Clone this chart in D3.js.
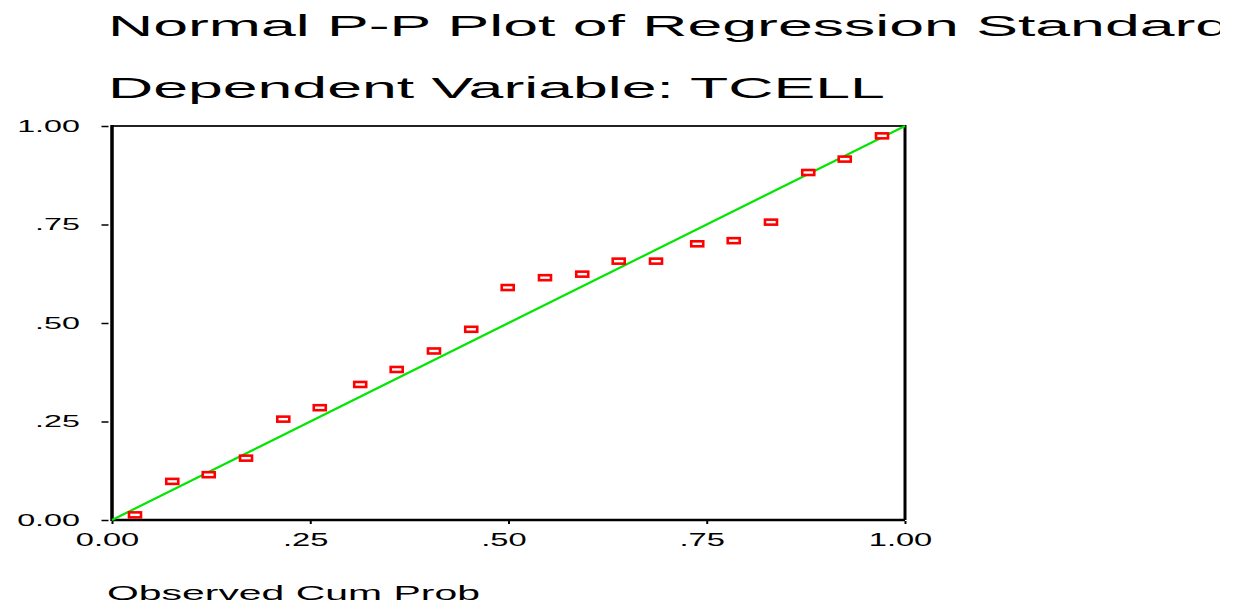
<html>
  <head>
    <meta charset="utf-8">
    <title>Normal P-P Plot</title>
    <style>
      body { margin: 0; background: #fff; }
      text { font-family: "Liberation Sans", Arial, sans-serif; fill: #000; }
    </style>
  </head>
  <body>
    <script src="https://d3js.org/d3.v7.min.js" charset="utf-8"></script>
    <script>

    var width = 1243,
        height = 604;

    // observed cumulative probabilities (x) and expected cumulative probabilities (y)
    var observedCum = [0.029, 0.076, 0.122, 0.169, 0.216, 0.262, 0.313, 0.359, 0.406, 0.453, 0.499,
                       0.546, 0.593, 0.639, 0.686, 0.738, 0.784, 0.831, 0.878, 0.924, 0.971];
    var expectedCum = [0.013, 0.098, 0.115, 0.157, 0.256, 0.285, 0.344, 0.382, 0.429, 0.484, 0.590,
                       0.615, 0.624, 0.657, 0.657, 0.701, 0.709, 0.756, 0.882, 0.916, 0.975];
    var refLine = [0, 1];
    var tickValues = [0, 0.25, 0.5, 0.75, 1];
    var tickLabels = ["0.00", ".25", ".50", ".75", "1.00"];
    var titleLines = ["Normal P-P Plot of Regression Standardized Residual", "Dependent Variable: TCELL"];
    var xTitle = "Observed Cum Prob";

    var plot = {left: 112, right: 905, top: 126, bottom: 520};

    var svg = d3.select("body").append("svg")
                .attr("width", width)
                .attr("height", height);

    svg.append("rect").attr("width", width).attr("height", height).attr("fill", "#fff");

    // the first title line runs off the right side of the page
    svg.append("clipPath").attr("id", "pageclip")
       .append("rect").attr("x", 0).attr("y", 0).attr("width", 1220).attr("height", height);

    var x = d3.scaleLinear().domain([0, 1]).range([plot.left, plot.right]);
    var y = d3.scaleLinear().domain([0, 1]).range([plot.bottom, plot.top]);

    // stretch text horizontally around its anchor point
    function stretch(sel, sx) {
      sel.each(function() {
        var t = d3.select(this);
        var tx = +t.attr("x") || 0, ty = +t.attr("y") || 0;
        t.attr("x", 0).attr("y", 0)
         .attr("transform", "translate(" + tx + "," + ty + ") scale(" + sx + ",1)");
      });
    }

    // titles
    var t2 = svg.append("text").attr("x", 108).attr("y", 98)
                .attr("font-size", 30).text(titleLines[1]);
    var sxTitle = 777 / t2.node().getComputedTextLength();
    stretch(t2, sxTitle);

    var t1 = svg.append("g").attr("clip-path", "url(#pageclip)")
                .append("text").attr("x", 108).attr("y", 36)
                .attr("font-size", 30)
                .text(titleLines[0]);
    stretch(t1, sxTitle);

    // y axis ticks and labels
    var yAxis = d3.axisLeft(y).tickValues(tickValues)
                  .tickFormat(function(d, i) { return tickLabels[i]; })
                  .tickSizeInner(7).tickSizeOuter(0).tickPadding(21.5);
    var gy = svg.append("g").attr("transform", "translate(108.5,0)").call(yAxis);
    gy.select(".domain").remove();
    gy.selectAll(".tick line").attr("stroke", "#000").attr("stroke-width", 1.5);
    gy.selectAll(".tick text").attr("font-size", 17).attr("font-family", null);
    stretch(gy.selectAll(".tick text"), 1.9);

    // x axis ticks and labels
    var xAxis = d3.axisBottom(x).tickValues(tickValues)
                  .tickFormat(function(d, i) { return tickLabels[i]; })
                  .tickSizeInner(3).tickSizeOuter(0).tickPadding(9);
    var gx = svg.append("g").attr("transform", "translate(0," + (plot.bottom + 1) + ")").call(xAxis);
    gx.select(".domain").remove();
    gx.selectAll(".tick line").attr("stroke", "#000").attr("stroke-width", 2);
    gx.selectAll(".tick text").attr("font-size", 19).attr("font-family", null).attr("x", -5);
    stretch(gx.selectAll(".tick text"), 1.72);

    // frame
    svg.append("line").attr("x1", plot.left).attr("x2", plot.right)
       .attr("y1", plot.top).attr("y2", plot.top)
       .attr("stroke", "#222").attr("stroke-width", 2);
    svg.append("line").attr("x1", plot.right).attr("x2", plot.right)
       .attr("y1", plot.top - 1).attr("y2", plot.bottom)
       .attr("stroke", "#000").attr("stroke-width", 3);
    svg.append("line").attr("x1", plot.left).attr("x2", plot.right)
       .attr("y1", plot.bottom).attr("y2", plot.bottom)
       .attr("stroke", "#000").attr("stroke-width", 2.5);
    svg.append("line").attr("x1", plot.left).attr("x2", plot.left)
       .attr("y1", plot.top - 1).attr("y2", plot.bottom + 1)
       .attr("stroke", "#000").attr("stroke-width", 3.5);

    // diagonal reference line
    svg.append("line")
       .attr("x1", x(refLine[0])).attr("y1", y(refLine[0]))
       .attr("x2", x(refLine[1])).attr("y2", y(refLine[1]))
       .attr("stroke", "#00e600").attr("stroke-width", 2.2);

    // points
    var pts = observedCum.map(function(d, i) { return {x: d, y: expectedCum[i]}; });
    svg.append("g").selectAll("rect")
       .data(pts).enter().append("rect")
       .attr("x", function(d) { return x(d.x) - 6; })
       .attr("y", function(d) { return y(d.y) - 2.5; })
       .attr("width", 12).attr("height", 5)
       .attr("fill", "#fff").attr("stroke", "#ff0000").attr("stroke-width", 2.6);

    // x axis title
    var xt = svg.append("text").attr("x", 107).attr("y", 600)
                .attr("font-size", 21).text(xTitle);
    stretch(xt, 373 / xt.node().getComputedTextLength());

    </script>
  </body>
</html>
